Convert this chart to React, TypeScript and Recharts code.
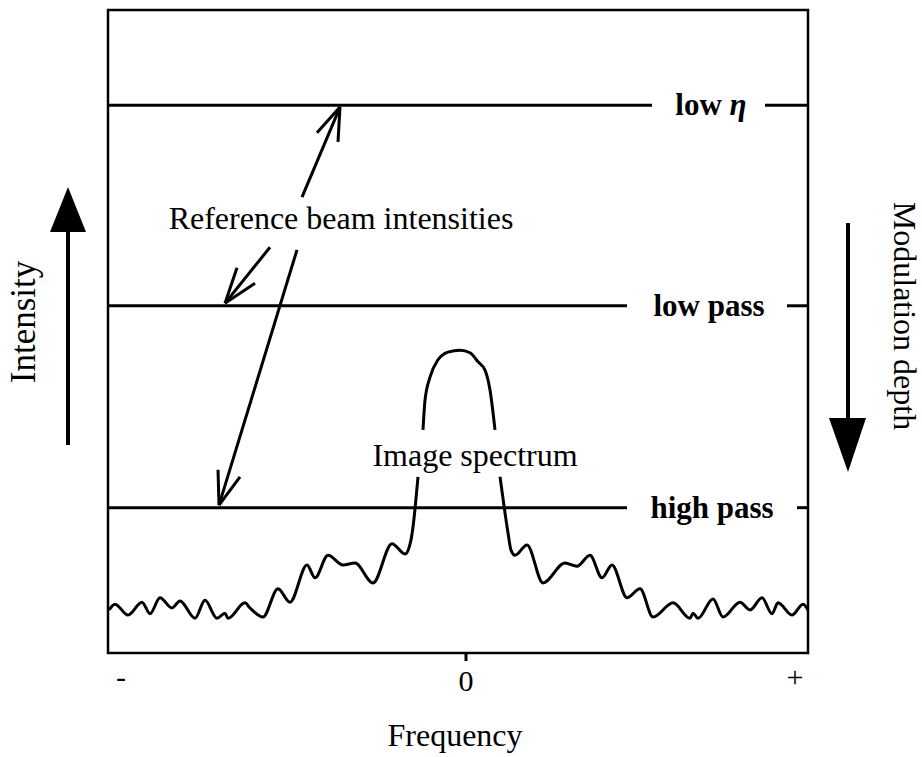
import { ComposedChart, Line, XAxis, YAxis, ReferenceLine, ReferenceArea } from 'recharts';

// spectrum (frequency relative to 0, intensity 0-100)
const FREQ = [
    -357, -351, -338, -324, -316, -306, -294, -286, -271, -261, -249, -241, -238, -221, -216, -203,
    -188, -176, -159, -151, -138, -123, -111, -93, -74, -61, -55, -53, -48, -45.5, -43, -41, -36,
    -28, -18, -6, 4, 12, 19, 24, 29, 31.5, 34, 39, 42, 45, 49, 61, 77, 99, 111, 124, 136, 146, 161, 174,
    187, 207, 224, 227, 232, 247, 257, 274, 284, 296, 306, 312, 326, 337, 342,
];
const INTENSITY: (number | null)[] = [
    6.7, 7.6, 5.9, 7.9, 6.1, 8.6, 7.0, 8.1, 5.4, 8.2, 5.4, 6.2, 5.4, 7.8, 7.0, 5.6,
    10.0, 7.9, 13.7, 11.7, 15.2, 13.7, 14.0, 10.9, 17.0, 15.4, 17.6, 19.6, 27.4, null, 34.7, 39.3, 42.9,
    45.6, 46.8, 47.1, 46.7, 45.3, 44.0, 40.9, 34.7, null, 27.4, 21.8, 18.7, 16.0, 15.2, 16.8, 10.9, 14.0, 13.5, 15.2, 11.7, 13.7, 8.6, 10.0,
    5.6, 7.8, 5.4, 6.2, 5.4, 8.4, 5.6, 7.9, 6.7, 8.6, 6.1, 7.8, 5.9, 7.6, 6.7,
];

// reference beam levels
const LEVEL_NAMES = ['low η', 'low pass', 'high pass'];
const LEVEL_VALUES = [85.2, 54.0, 22.6];
const LEVEL_LINE_END = [186, 161, 161];
const LEVEL_TICK_START = [299, 321, 331];
const LABEL_CENTER = [245, 243, 246];

const X_TICKS = [-345, 0, 329];
const X_TICK_LABELS = ['-', '0', '+'];

const F_MIN = -358;
const F_MAX = 342;

const data = FREQ.map((f, i) => ({ f, intensity: INTENSITY[i] }));

const SERIF = '"Liberation Serif", "Times New Roman", serif';

// annotation arrows: [tail, tip, head1, head2] as [f, intensity]
const ARROWS: [number, number][][] = [
    [[-164, 70.9], [-126, 84.9], [-149, 80.9], [-128, 79.5]],
    [[-196, 63.1], [-241, 54.4], [-229, 59.9], [-211, 57.5]],
    [[-169, 62.7], [-247, 23.0], [-248, 28.5], [-226, 27.4]],
];

const FreqTick = (props: any) => {
    const { x, y, payload } = props;
    const idx = X_TICKS.indexOf(payload.value);
    const label = X_TICK_LABELS[idx];
    return (
        <g>
            {payload.value === 0 && (
                <line x1={x} x2={x} y1={y - 8} y2={y} stroke="#000" strokeWidth={3} />
            )}
            <text x={x} y={y + (payload.value === 0 ? 30 : 26)} textAnchor="middle" fontFamily={SERIF} fontSize={30} fill="#000">
                {label}
            </text>
        </g>
    );
};

export default function App() {
    return (
        <div style={{ position: 'absolute', left: 0, top: 0, background: '#fff' }}>
            <ComposedChart
                width={922}
                height={757}
                data={data}
                margin={{ top: 10, right: 114, left: 108, bottom: 0 }}
            >
                <XAxis
                    dataKey="f"
                    type="number"
                    domain={[F_MIN, F_MAX]}
                    ticks={X_TICKS}
                    tick={<FreqTick />}
                    tickLine={false}
                    axisLine={false}
                    tickSize={8}
                    tickMargin={0}
                    height={104}
                    allowDataOverflow
                />
                <YAxis type="number" domain={[0, 100]} hide allowDataOverflow />

                <ReferenceArea
                    x1={F_MIN}
                    x2={F_MAX}
                    y1={0}
                    y2={100}
                    fill="none"
                    fillOpacity={0}
                    stroke="#000"
                    strokeWidth={2.5}
                />

                {LEVEL_VALUES.map((v, i) => (
                    <ReferenceLine
                        key={'lvl' + i}
                        segment={[{ x: F_MIN, y: v }, { x: LEVEL_LINE_END[i], y: v }]}
                        stroke="#000"
                        strokeWidth={3}
                    />
                ))}
                {LEVEL_VALUES.map((v, i) => (
                    <ReferenceLine
                        key={'tick' + i}
                        segment={[{ x: LEVEL_TICK_START[i], y: v }, { x: F_MAX, y: v }]}
                        stroke="#000"
                        strokeWidth={3}
                    />
                ))}
                {LEVEL_VALUES.map((v, i) => (
                    <ReferenceLine
                        key={'lab' + i}
                        segment={[{ x: LABEL_CENTER[i], y: v }, { x: LABEL_CENTER[i] + 0.01, y: v }]}
                        stroke="none"
                        label={(p: any) => {
                            const vb = p.viewBox;
                            const name = LEVEL_NAMES[i];
                            const isEta = name.endsWith('η');
                            return (
                                <text
                                    x={vb.x}
                                    y={vb.y + 10}
                                    textAnchor="middle"
                                    fontFamily={SERIF}
                                    fontSize={31}
                                    fontWeight="bold"
                                    fill="#000"
                                >
                                    {isEta ? (
                                        <>
                                            {name.slice(0, -1)}
                                            <tspan fontStyle="italic">η</tspan>
                                        </>
                                    ) : (
                                        name
                                    )}
                                </text>
                            );
                        }}
                    />
                ))}

                {ARROWS.flatMap((a, i) => [
                    <ReferenceLine
                        key={'shaft' + i}
                        segment={[{ x: a[0][0], y: a[0][1] }, { x: a[1][0], y: a[1][1] }]}
                        stroke="#000"
                        strokeWidth={3}
                    />,
                    <ReferenceLine
                        key={'h1' + i}
                        segment={[{ x: a[2][0], y: a[2][1] }, { x: a[1][0], y: a[1][1] }]}
                        stroke="#000"
                        strokeWidth={3}
                    />,
                    <ReferenceLine
                        key={'h2' + i}
                        segment={[{ x: a[3][0], y: a[3][1] }, { x: a[1][0], y: a[1][1] }]}
                        stroke="#000"
                        strokeWidth={3}
                    />,
                ])}

                <Line
                    type="monotone"
                    dataKey="intensity"
                    stroke="#000"
                    strokeWidth={3}
                    dot={false}
                    connectNulls={false}
                    isAnimationActive={false}
                />

                {/* text annotations and side arrows */}
                <text x={341} y={229} textAnchor="middle" fontFamily={SERIF} fontSize={32} fill="#000">
                    Reference beam intensities
                </text>
                <text x={475} y={466} textAnchor="middle" fontFamily={SERIF} fontSize={32} fill="#000">
                    Image spectrum
                </text>
                <text x={455} y={746} textAnchor="middle" fontFamily={SERIF} fontSize={32} fill="#000">
                    Frequency
                </text>
                <text
                    x={35}
                    y={322}
                    textAnchor="middle"
                    fontFamily={SERIF}
                    fontSize={35}
                    fill="#000"
                    transform="rotate(-90 35 322)"
                >
                    Intensity
                </text>
                <text
                    x={894}
                    y={316}
                    textAnchor="middle"
                    fontFamily={SERIF}
                    fontSize={32}
                    fill="#000"
                    transform="rotate(90 894 316)"
                >
                    Modulation depth
                </text>
                <line x1={68} x2={68} y1={445} y2={228} stroke="#000" strokeWidth={4} />
                <polygon points="68,187 50,232 86,232" fill="#000" />
                <line x1={848} x2={848} y1={223} y2={422} stroke="#000" strokeWidth={4} />
                <polygon points="829,418 866,418 848,472" fill="#000" />
            </ComposedChart>
        </div>
    );
}
